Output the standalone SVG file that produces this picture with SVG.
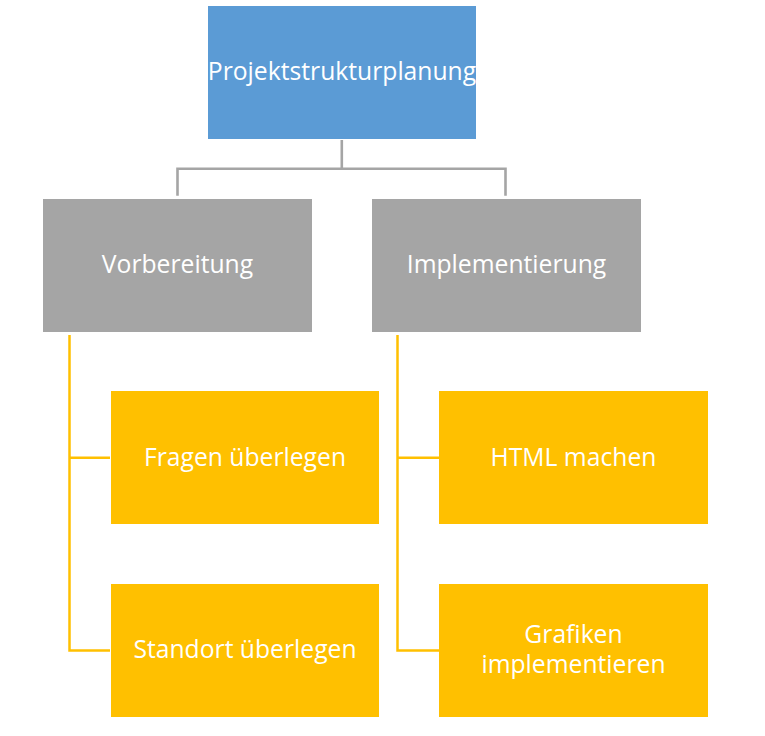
<svg xmlns="http://www.w3.org/2000/svg" width="765" height="736" viewBox="0 0 765 736">
<style>
.t{font-family:"Open Sans","Noto Sans",sans-serif;font-size:24.7px;fill:#fff;text-anchor:middle}
.gl{fill:none;stroke:#A5A5A5;stroke-width:2.6}
.yl{fill:none;stroke:#FFC000;stroke-width:2.5}
</style>
<rect width="765" height="736" fill="#fff"/>
<g id="connectors">
<path class="gl" d="M341.8 140V168.8M177.5 195.8V168.8H505.5V195.8"/>
<path class="yl" d="M69.5 335V650.5H110M69.5 457.8H110"/>
<path class="yl" d="M397.5 335V650.5H439M397.5 457.8H439"/>
</g>
<g id="n-root"><rect x="208" y="6" width="268" height="133" fill="#5B9BD5"/><text class="t" x="342" y="80">Projektstrukturplanung</text></g>
<g id="n-vorbereitung"><rect x="43" y="199" width="269" height="133" fill="#A5A5A5"/><text class="t" x="177.5" y="273">Vorbereitung</text></g>
<g id="n-implementierung"><rect x="372" y="199" width="269" height="133" fill="#A5A5A5"/><text class="t" x="506.5" y="273">Implementierung</text></g>
<g id="n-fragen"><rect x="111" y="391" width="268" height="133" fill="#FFC000"/><text class="t" x="245" y="466">Fragen überlegen</text></g>
<g id="n-standort"><rect x="111" y="584" width="268" height="133" fill="#FFC000"/><text class="t" x="245" y="657.5">Standort überlegen</text></g>
<g id="n-html"><rect x="439" y="391" width="269" height="133" fill="#FFC000"/><text class="t" x="573.5" y="466">HTML machen</text></g>
<g id="n-grafiken"><rect x="439" y="584" width="269" height="133" fill="#FFC000"/><text class="t" x="573.5" y="642.7">Grafiken</text><text class="t" x="573.5" y="673.3">implementieren</text></g>
</svg>
